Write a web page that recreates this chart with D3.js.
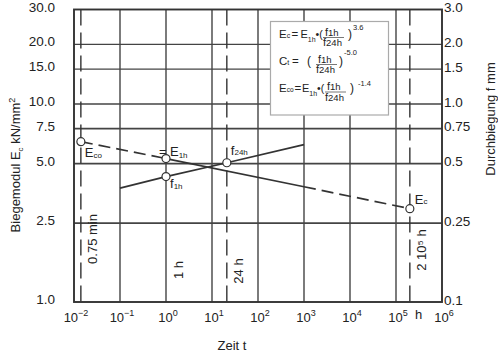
<!DOCTYPE html>
<html>
<head>
<meta charset="utf-8">
<script src="https://cdn.jsdelivr.net/npm/d3@7"></script>
<style>
  body { margin: 0; background: #fff; }
  text { font-family: "Liberation Sans", Arial, sans-serif; fill: #222; }
</style>
</head>
<body>
<div class="chart"></div>
<script>
var svgWidth = 498;
var svgHeight = 353;

var margin = { top: 9.5, right: 56, bottom: 51, left: 74 };
var width = svgWidth - margin.left - margin.right;
var height = svgHeight - margin.top - margin.bottom;

// x axis: time in hours, one gridline per decade
var decades = [-2, -1, 0, 1, 2, 3, 4, 5, 6];
var decadeLabels = ["−2", "−1", "0", "1", "2", "3", "4", "5", "6"];

// left axis: modulus kN/mm², right axis: deflection mm
var leftTicks = [1, 2.5, 5, 7.5, 10, 15, 20, 30];
var leftLabels = ["1.0", "2.5", "5.0", "7.5", "10.0", "15.0", "20.0", "30.0"];
var rightTicks = [0.1, 0.25, 0.5, 0.75, 1, 1.5, 2, 3];
var rightLabels = ["0.1", "0.25", "0.5", "0.75", "1.0", "1.5", "2.0", "3.0"];
var gridY = [2.5, 5, 7.5, 10, 15, 20];

// marked times (hours): 0.75 min, 24 h, 2·10^5 h
var markTimes = [0.0141, 21, 2e5];
var markText = ["0.75 min", "24 h", "2 10⁵ h"];

// modulus line E (kN/mm²) and deflection line f (mm)
var eTimes = [0.0141, 1, 1000, 2e5];
var eValues = [6.45, 5.3, 3.82, 2.96];
var eDashed = [true, false, true];
var fTimes = [0.1, 1, 21, 1000];
var fValues = [0.376, 0.43, 0.505, 0.623];

var eMarkTimes = [0.0141, 1, 2e5];
var eMarkValues = [6.45, 5.3, 2.96];
var fMarkTimes = [1, 21];
var fMarkValues = [0.43, 0.505];

var svg = d3.select(".chart")
  .append("svg")
  .attr("width", svgWidth)
  .attr("height", svgHeight);

var chartGroup = svg.append("g")
  .attr("transform", `translate(${margin.left}, ${margin.top})`);

var x = d3.scaleLog().domain([1e-2, 1e6]).range([0, width]);
var yL = d3.scaleLog().domain([1, 30]).range([height, 0]);
var yR = d3.scaleLog().domain([0.1, 3]).range([height, 0]);

var ink = "#333";

// gridlines
chartGroup.selectAll(".vgrid")
  .data(decades.slice(1, -1))
  .enter()
  .append("line")
  .attr("x1", d => x(Math.pow(10, d)))
  .attr("x2", d => x(Math.pow(10, d)))
  .attr("y1", 0)
  .attr("y2", height)
  .attr("stroke", "#444")
  .attr("stroke-width", 1.4);

chartGroup.selectAll(".hgrid")
  .data(gridY)
  .enter()
  .append("line")
  .attr("x1", 0)
  .attr("x2", width)
  .attr("y1", d => yL(d))
  .attr("y2", d => yL(d))
  .attr("stroke", "#444")
  .attr("stroke-width", d => d <= 7.5 ? 1.8 : 1.4);

// dashed time markers
chartGroup.selectAll(".tmark")
  .data(markTimes)
  .enter()
  .append("line")
  .attr("x1", d => x(d))
  .attr("x2", d => x(d))
  .attr("y1", 0)
  .attr("y2", height)
  .attr("stroke", ink)
  .attr("stroke-width", 1.4)
  .attr("stroke-dasharray", "16,7");

// frame
chartGroup.append("rect")
  .attr("width", width)
  .attr("height", height)
  .attr("fill", "none")
  .attr("stroke", ink)
  .attr("stroke-width", 1.9);

// E line, segment by segment
for (var i = 0; i < eTimes.length - 1; i++) {
  chartGroup.append("line")
    .attr("x1", x(eTimes[i]))
    .attr("y1", yL(eValues[i]))
    .attr("x2", x(eTimes[i + 1]))
    .attr("y2", yL(eValues[i + 1]))
    .attr("stroke", ink)
    .attr("stroke-width", 1.7)
    .attr("stroke-dasharray", eDashed[i] ? "12,6" : null);
}

// f line
var fLine = d3.line()
  .x((d, i) => x(fTimes[i]))
  .y(d => yR(d));

chartGroup.append("path")
  .attr("d", fLine(fValues))
  .attr("fill", "none")
  .attr("stroke", ink)
  .attr("stroke-width", 1.7);

// open circle markers
chartGroup.selectAll(".emark")
  .data(eMarkValues)
  .enter()
  .append("circle")
  .attr("cx", (d, i) => x(eMarkTimes[i]))
  .attr("cy", d => yL(d))
  .attr("r", 4)
  .attr("fill", "#fff")
  .attr("stroke", ink)
  .attr("stroke-width", 1.2);

chartGroup.selectAll(".fmark")
  .data(fMarkValues)
  .enter()
  .append("circle")
  .attr("cx", (d, i) => x(fMarkTimes[i]))
  .attr("cy", d => yR(d))
  .attr("r", 4)
  .attr("fill", "#fff")
  .attr("stroke", ink)
  .attr("stroke-width", 1.2);

// text with a subscript
function subText(g, px, py, main, sub, size, subSize, subDy) {
  var t = g.append("text")
    .attr("x", px)
    .attr("y", py)
    .style("font-size", size + "px");
  t.append("tspan").text(main);
  t.append("tspan")
    .attr("dy", subDy)
    .style("font-size", subSize + "px")
    .text(sub);
  return t;
}

function plainText(g, px, py, s, size) {
  return g.append("text").attr("x", px).attr("y", py)
    .style("font-size", size + "px").text(s);
}

// point labels
subText(chartGroup, x(eMarkTimes[0]) + 4, yL(eMarkValues[0]) + 15, "E", "co", 13, 8, 1);
plainText(chartGroup, x(eMarkTimes[1]) - 7, yL(eMarkValues[1]) - 3, "=", 13);
subText(chartGroup, x(eMarkTimes[1]) + 4, yL(eMarkValues[1]) - 3, "E", "1h", 13, 8, 2);
subText(chartGroup, x(fMarkTimes[0]) + 4, yR(fMarkValues[0]) + 11, "f", "1h", 13, 8, 1);
subText(chartGroup, x(fMarkTimes[1]) + 4, yR(fMarkValues[1]) - 8, "f", "24h", 13, 8, 0);
subText(chartGroup, x(eMarkTimes[2]) + 5, yL(eMarkValues[2]) - 5, "E", "c", 13, 8, 0);

// rotated time labels
var rotLabels = [
  { t: markTimes[0], s: markText[0], cy: 239 },
  { t: 1, s: "1 h", cy: 270 },
  { t: markTimes[1], s: markText[1], cy: 271 },
  { t: markTimes[2], s: markText[2], cy: 250 }
];
rotLabels.forEach(function(d) {
  var cx = x(d.t) + 12;
  chartGroup.append("text")
    .attr("transform", `translate(${cx}, ${d.cy - margin.top}) rotate(-90)`)
    .attr("text-anchor", "middle")
    .attr("dy", "0.35em")
    .style("font-size", "13px")
    .text(d.s);
});

// left axis labels
var leftAxis = d3.axisLeft(yL)
  .tickValues(leftTicks)
  .tickFormat((d, i) => leftLabels[i])
  .tickSize(0)
  .tickPadding(19);
var la = chartGroup.append("g").call(leftAxis);
la.select(".domain").remove();
la.selectAll("text")
  .attr("dy", "0.12em")
  .style("font-size", "13.5px")
  .style("font-family", "'Liberation Sans', Arial, sans-serif")
  .attr("fill", "#222");

// right axis labels
var rightAxis = d3.axisRight(yR)
  .tickValues(rightTicks)
  .tickFormat((d, i) => rightLabels[i])
  .tickSize(0)
  .tickPadding(2);
var ra = chartGroup.append("g")
  .attr("transform", `translate(${width}, 0)`)
  .call(rightAxis);
ra.select(".domain").remove();
ra.selectAll("text")
  .attr("dy", "0.15em")
  .style("font-size", "13.5px")
  .style("font-family", "'Liberation Sans', Arial, sans-serif")
  .attr("fill", "#222");

// bottom labels 10^n
decades.forEach(function(d, i) {
  var t = chartGroup.append("text")
    .attr("x", x(Math.pow(10, d)) + 2)
    .attr("y", height + 19.5)
    .attr("text-anchor", "middle")
    .style("font-size", "13px");
  t.append("tspan").text("10");
  t.append("tspan")
    .attr("dy", -6)
    .style("font-size", "9px")
    .text(decadeLabels[i]);
});
plainText(chartGroup, x(2.6e5), height + 17, "h", 13);

// axis titles
svg.append("text")
  .attr("x", 232)
  .attr("y", 350)
  .attr("text-anchor", "middle")
  .style("font-size", "13px")
  .text("Zeit t");

var lt = svg.append("text")
  .attr("transform", "translate(20, 165) rotate(-90)")
  .attr("text-anchor", "middle")
  .style("font-size", "13px");
lt.append("tspan").text("Biegemodul E");
lt.append("tspan").attr("dy", 3).style("font-size", "8px").text("c");
lt.append("tspan").attr("dy", -3).text(" kN/mm");
lt.append("tspan").attr("dy", -5).style("font-size", "9px").text("2");

svg.append("text")
  .attr("transform", "translate(495, 119) rotate(-90)")
  .attr("text-anchor", "middle")
  .style("font-size", "13px")
  .text("Durchbiegung f mm");

// formula box
var box = svg.append("g");
box.append("rect")
  .attr("x", 270.5)
  .attr("y", 21.5)
  .attr("width", 118)
  .attr("height", 93.5)
  .attr("fill", "#fff")
  .attr("stroke", "#aaa")
  .attr("stroke-width", 1.2);

function fraction(g, x0, x1, barY) {
  subText(g, x0 + 2, barY - 2, "f", "1h", 11, 9.5, 0);
  subText(g, x0, barY + 8.5, "f", "24h", 11, 9.5, 0);
  g.append("line")
    .attr("x1", x0).attr("x2", x1)
    .attr("y1", barY).attr("y2", barY)
    .attr("stroke", "#555").attr("stroke-width", 0.8);
}

// row 1: Ec
subText(box, 279, 38, "E", "c", 11.5, 7, 0);
plainText(box, 291.5, 38, "=", 11.5);
subText(box, 300.5, 38, "E", "1h", 11, 7, 4);
plainText(box, 315.5, 38, "•(", 10.5);
fraction(box, 323, 344, 37.5);
plainText(box, 348, 38, ")", 12);
plainText(box, 353, 29.5, "3.6", 7.5);

// row 2: Ct
subText(box, 279, 65, "C", "t", 11.5, 7, 0);
plainText(box, 292, 65, "=", 11.5);
plainText(box, 307, 65, "(", 12);
fraction(box, 316, 337, 64.5);
plainText(box, 339, 65, ")", 12);
plainText(box, 344, 54.5, "-5.0", 7.5);

// row 3: Eco
subText(box, 279, 92, "E", "co", 11.5, 6.5, 0);
plainText(box, 294.5, 92, "=", 11.5);
subText(box, 302, 92, "E", "1h", 11, 7, 4);
plainText(box, 317, 92, "•(", 10.5);
fraction(box, 325, 346, 92);
plainText(box, 350, 92, ")", 12);
plainText(box, 358, 86, "-1.4", 7.5);
</script>
</body>
</html>
